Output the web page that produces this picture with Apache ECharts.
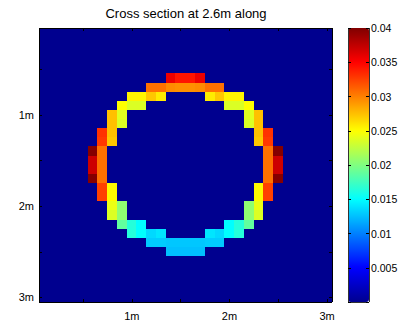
<!DOCTYPE html>
<html>
<head>
<meta charset="utf-8">
<script src="https://cdn.jsdelivr.net/npm/echarts@6/dist/echarts.min.js"></script>
<style>
  html, body { margin: 0; padding: 0; background: #fff; }
  #chart { width: 401px; height: 321px; }
  #chart svg path { shape-rendering: crispEdges; }
</style>
</head>
<body>
<div id="chart"></div>
<script>
// Cell centres across the section (metres), left to right / top to bottom
const xCells = ['0.1','0.2','0.3','0.4','0.5','0.6','0.7','0.8','0.9','1.0',
                '1.1','1.2','1.3','1.4','1.5','1.6','1.7','1.8','1.9','2.0',
                '2.1','2.2','2.3','2.4','2.5','2.6','2.7','2.8','2.9','3.0'];
const yCells = ['0.1','0.2','0.3','0.4','0.5','0.6','0.7','0.8','0.9','1.0',
                '1.1','1.2','1.3','1.4','1.5','1.6','1.7','1.8','1.9','2.0',
                '2.1','2.2','2.3','2.4','2.5','2.6','2.7','2.8','2.9','3.0'];

// Ticked and labelled positions on both axes
const axisTickCells = ['0.5','1.0','1.5','2.0','2.5','3.0'];
const axisLabelCells = { '1.0': '1m', '2.0': '2m', '3.0': '3m' };

// Colour scale limits and its labelled ticks
const scaleMin = 0;
const scaleMax = 0.04;
const scaleStep = 0.005;

// Value outside the ring
const backgroundValue = 0;

// Ring cells: [column index, row index, value]
const ringCells = [
  // row 5
  [13,5,0.0357],[14,5,0.0342],[15,5,0.0342],[16,5,0.0357],
  // row 6
  [11,6,0.0306],[12,6,0.0306],[13,6,0.0296],[14,6,0.0294],[15,6,0.0294],[16,6,0.0296],[17,6,0.0306],[18,6,0.0306],
  // row 7
  [9,7,0.0254],[10,7,0.0254],[11,7,0.0272],[12,7,0.0258],[17,7,0.0258],[18,7,0.0272],[19,7,0.0254],[20,7,0.0254],
  // row 8
  [8,8,0.0250],[9,8,0.0236],[10,8,0.0236],[19,8,0.0236],[20,8,0.0236],[21,8,0.0250],
  // rows 9-10
  [7,9,0.0275],[8,9,0.0238],[21,9,0.0238],[22,9,0.0275],
  [7,10,0.0275],[8,10,0.0236],[21,10,0.0236],[22,10,0.0275],
  // rows 11-12
  [6,11,0.0331],[7,11,0.0275],[22,11,0.0275],[23,11,0.0331],
  [6,12,0.0328],[7,12,0.0272],[22,12,0.0272],[23,12,0.0328],
  // rows 13-16
  [5,13,0.0398],[6,13,0.0306],[23,13,0.0306],[24,13,0.0398],
  [5,14,0.0370],[6,14,0.0306],[23,14,0.0306],[24,14,0.0370],
  [5,15,0.0370],[6,15,0.0306],[23,15,0.0306],[24,15,0.0370],
  [5,16,0.0398],[6,16,0.0306],[23,16,0.0306],[24,16,0.0398],
  // rows 17-18
  [6,17,0.0325],[7,17,0.0252],[22,17,0.0252],[23,17,0.0325],
  [6,18,0.0325],[7,18,0.0252],[22,18,0.0252],[23,18,0.0325],
  // rows 19-20
  [7,19,0.0242],[8,19,0.0206],[21,19,0.0206],[22,19,0.0242],
  [7,20,0.0236],[8,20,0.0206],[21,20,0.0206],[22,20,0.0236],
  // row 21
  [8,21,0.0188],[9,21,0.0164],[10,21,0.0150],[19,21,0.0150],[20,21,0.0164],[21,21,0.0188],
  // row 22
  [9,22,0.0164],[10,22,0.0150],[11,22,0.0135],[12,22,0.0140],[17,22,0.0140],[18,22,0.0135],[19,22,0.0150],[20,22,0.0164],
  // row 23
  [11,23,0.0130],[12,23,0.0130],[13,23,0.0128],[14,23,0.0128],[15,23,0.0128],[16,23,0.0128],[17,23,0.0130],[18,23,0.0130],
  // row 24
  [13,24,0.0125],[14,24,0.0125],[15,24,0.0125],[16,24,0.0125]
];

// Jet colour map stops (evenly spaced from min to max)
const jetColors = ['#00008f','#0000ff','#0080ff','#00ffff','#80ff80',
                   '#ffff00','#ff8000','#ff0000','#800000'];

// Full grid of cells, background everywhere except the ring
const cellMap = {};
ringCells.forEach(([c, r, v]) => { cellMap[c + ',' + r] = v; });
const heatData = [];
for (let r = 0; r < yCells.length; r++) {
  for (let c = 0; c < xCells.length; c++) {
    const key = c + ',' + r;
    heatData.push([c, r, key in cellMap ? cellMap[key] : backgroundValue]);
  }
}

const font = '"Liberation Sans", Arial, Helvetica, sans-serif';
const tickShown = (i, v) => axisTickCells.indexOf(v) >= 0;
const labelShown = (i, v) => v in axisLabelCells;

const plot = { left: 39, top: 28, width: 293, height: 274 };
const bar = { left: 348, top: 28, width: 21, height: 274 };

const catAxisCommon = {
  type: 'category',
  gridIndex: 0,
  boundaryGap: true,
  z: 5,
  axisLine: { show: true, lineStyle: { color: '#000', width: 1 } },
  axisTick: { show: true, inside: true, length: 3, alignWithLabel: true,
              interval: tickShown, lineStyle: { color: '#000' } },
  splitLine: { show: false }
};

const chart = echarts.init(document.getElementById('chart'), null, { renderer: 'svg' });
chart.setOption({
  animation: false,
  backgroundColor: '#fff',
  title: {
    text: 'Cross section at 2.6m along',
    left: 186, top: 7, padding: 0,
    textAlign: 'center',
    textStyle: { fontFamily: font, fontSize: 13, fontWeight: 'normal', color: '#000' }
  },
  grid: [
    Object.assign({ containLabel: false, show: true, borderWidth: 0,
                    backgroundColor: '#00008f' }, plot),
    Object.assign({ containLabel: false }, bar)
  ],
  xAxis: [
    Object.assign({}, catAxisCommon, {
      data: xCells, position: 'bottom',
      axisLabel: { show: true, interval: labelShown, margin: 8,
                   formatter: v => axisLabelCells[v] || '',
                   fontFamily: font, fontSize: 11, color: '#000' }
    }),
    Object.assign({}, catAxisCommon, {
      data: xCells, position: 'top', axisLabel: { show: false }
    }),
    { type: 'category', gridIndex: 1, data: ['c'], position: 'bottom', z: 5,
      axisLine: { show: true, lineStyle: { color: '#333' } },
      axisTick: { show: false }, axisLabel: { show: false } },
    { type: 'category', gridIndex: 1, data: ['c'], position: 'top', z: 5,
      axisLine: { show: true, lineStyle: { color: '#333' } },
      axisTick: { show: false }, axisLabel: { show: false } }
  ],
  yAxis: [
    Object.assign({}, catAxisCommon, {
      data: yCells, position: 'left', inverse: true,
      axisLabel: { show: true, interval: labelShown, margin: 5,
                   formatter: v => axisLabelCells[v] || '',
                   fontFamily: font, fontSize: 11, color: '#000' }
    }),
    Object.assign({}, catAxisCommon, {
      data: yCells, position: 'right', inverse: true, axisLabel: { show: false }
    }),
    { type: 'value', gridIndex: 1, position: 'right', min: scaleMin, max: scaleMax,
      interval: scaleStep, z: 5,
      axisLine: { show: true, lineStyle: { color: '#333' } },
      axisTick: { show: true, inside: true, length: 3, lineStyle: { color: '#000' } },
      axisLabel: { show: true, margin: 2, fontFamily: font, fontSize: 10.5, color: '#000',
                   formatter: v => (v === scaleMin ? '' : String(+v.toFixed(3))) },
      splitLine: { show: false } },
    { type: 'value', gridIndex: 1, position: 'left', min: scaleMin, max: scaleMax,
      interval: scaleStep, z: 5,
      axisLine: { show: true, lineStyle: { color: '#333' } },
      axisTick: { show: true, inside: true, length: 3, lineStyle: { color: '#000' } },
      axisLabel: { show: false }, splitLine: { show: false } }
  ],
  visualMap: {
    type: 'continuous',
    seriesIndex: 0,
    min: scaleMin, max: scaleMax,
    orient: 'vertical',
    left: bar.left, top: bar.top,
    itemWidth: bar.width, itemHeight: bar.height,
    padding: 0,
    calculable: false,
    hoverLink: false,
    text: null,
    inRange: { color: jetColors }
  },
  series: [
    {
      type: 'heatmap',
      xAxisIndex: 0, yAxisIndex: 0,
      data: heatData,
      progressive: 0,
      itemStyle: { borderWidth: 0 },
      emphasis: { disabled: true }
    },
    {
      type: 'line',
      xAxisIndex: 2, yAxisIndex: 2,
      data: [],
      silent: true
    }
  ]
});
</script>
</body>
</html>
